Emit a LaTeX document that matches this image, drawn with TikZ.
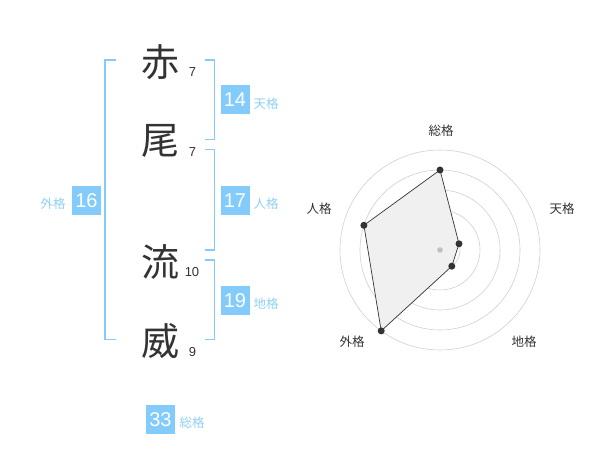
\documentclass[tikz,border=0pt]{standalone}
\usepackage{fontspec}
\setmainfont{Liberation Sans}
\newfontfamily\cjk{Noto Sans CJK JP}
\usepackage{tikz}
\usetikzlibrary{positioning}
\definecolor{sky}{HTML}{82CBFA}
\definecolor{skytext}{HTML}{8FD0F5}
\definecolor{ink}{HTML}{333333}
\definecolor{ring}{HTML}{D0D0D0}
\definecolor{area}{HTML}{F0F0F0}

\begin{document}
\begin{tikzpicture}[x=1pt, y=-1pt,
    kanji/.style={text=ink, inner sep=0pt, font=\cjk\fontsize{38}{38}\selectfont},
    stroke/.style={text=ink, inner sep=0pt, font=\fontsize{13}{13}\selectfont},
    numbox/.style={fill=sky, text=white, minimum size=29pt, inner sep=0pt, font=\fontsize{20}{20}\selectfont},
    kaku/.style={text=skytext, inner sep=0pt, font=\cjk\fontsize{12.5}{12.5}\selectfont},
    axislabel/.style={text=ink, inner sep=0pt, font=\cjk\fontsize{12.5}{12.5}\selectfont},
    bracket/.style={draw=sky, line width=1.8pt},
    dot/.style={circle, fill=ink, inner sep=0pt, minimum size=7pt}]
    \useasboundingbox (0,0) rectangle (600,470);

    % name
    \node[kanji] (aka) at (160,62) {赤};
    \node[kanji] (o) at (160,141) {尾};
    \node[kanji] (ryu) at (160,262) {流};
    \node[kanji] (i) at (160,341) {威};

    \node[stroke] (aka-n) at (192.5,72.5) {7};
    \node[stroke] (o-n) at (192.5,152.5) {7};
    \node[stroke] (ryu-n) at (192,272.5) {10};
    \node[stroke] (i-n) at (192.5,352.5) {9};

    % brackets
    \draw[bracket] (116,60) -- (105,60) -- (105,339.5) -- (116,339.5);
    \draw[bracket] (205,60) -- (214.5,60) -- (214.5,139.5) -- (205,139.5);
    \draw[bracket] (205,149.5) -- (214.5,149.5) -- (214.5,250) -- (205,250);
    \draw[bracket] (205,260) -- (214.5,260) -- (214.5,339.5) -- (205,339.5);

    % scores
    \node[numbox] (ten) at (235,100) {14};
    \node[kaku] (ten-l) at (266,104) {天格};
    \node[numbox] (jin) at (235,200.5) {17};
    \node[kaku] (jin-l) at (266,204) {人格};
    \node[numbox] (gai) at (86.5,200.5) {16};
    \node[kaku] (gai-l) at (53,203.5) {外格};
    \node[numbox] (chi) at (235,300.5) {19};
    \node[kaku] (chi-l) at (266,304) {地格};
    \node[numbox] (so) at (160.5,419.5) {33};
    \node[kaku] (so-l) at (192,423) {総格};

    % radar
    \coordinate (c) at (440,250);
    \draw[ring, line width=0.6pt] (c) circle (20);
    \draw[ring, line width=0.6pt] (c) circle (40);
    \draw[ring, line width=0.6pt] (c) circle (60);
    \draw[ring, line width=0.6pt] (c) circle (80);
    \draw[ring, line width=0.6pt] (c) circle (100);

    \coordinate (p-so) at (440,170);
    \coordinate (p-ten) at (459,243.8);
    \coordinate (p-chi) at (451.8,266.2);
    \coordinate (p-gai) at (381.2,330.9);
    \coordinate (p-jin) at (363.9,225.3);

    \filldraw[fill=area, draw=ink, line width=0.7pt]
        (p-so) -- (p-ten) -- (p-chi) -- (p-gai) -- (p-jin) -- cycle;
    \fill[ring!80!gray] (c) circle (2.8);

    \node[dot] (d-so) at (p-so) {};
    \node[dot] (d-ten) at (p-ten) {};
    \node[dot] (d-chi) at (p-chi) {};
    \node[dot] (d-gai) at (p-gai) {};
    \node[dot] (d-jin) at (p-jin) {};

    \node[axislabel] (a-so) at (441,131) {総格};
    \node[axislabel] (a-ten) at (562,209) {天格};
    \node[axislabel] (a-jin) at (319,209) {人格};
    \node[axislabel] (a-gai) at (352,342) {外格};
    \node[axislabel] (a-chi) at (524,342) {地格};
\end{tikzpicture}
\end{document}
